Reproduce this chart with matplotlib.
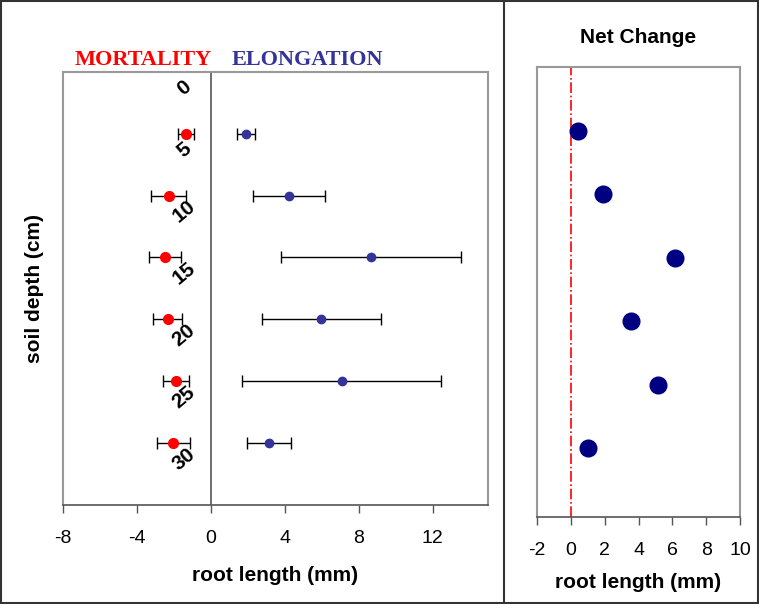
import matplotlib.pyplot as plt
from matplotlib.patches import Rectangle
from matplotlib.lines import Line2D

depth = [5, 10, 15, 20, 25, 30]
depth_labels = [0, 5, 10, 15, 20, 25, 30]
mortality = [-1.35, -2.29, -2.5, -2.34, -1.89, -2.04]
mortality_err = [0.45, 0.95, 0.86, 0.8, 0.69, 0.9]
elongation = [1.89, 4.23, 8.65, 5.98, 7.08, 3.15]
elongation_err = [0.5, 1.97, 4.87, 3.22, 5.37, 1.2]
net_change = [0.42, 1.9, 6.13, 3.57, 5.18, 1.0]

plt.rcParams['font.family'] = ['Liberation Sans', 'DejaVu Sans']
plt.rcParams['axes.unicode_minus'] = False

fig = plt.figure(figsize=(7.59, 6.04), dpi=100)

# Left panel: mortality and elongation
ax = fig.add_axes([0.083, 0.164, 0.560, 0.717])
ax.errorbar(mortality, depth, xerr=mortality_err, fmt='o', color='red',
            ecolor='black', elinewidth=1, capsize=4, capthick=1, markersize=7)
ax.errorbar(elongation, depth, xerr=elongation_err, fmt='o', color='#333399',
            ecolor='black', elinewidth=1, capsize=4, capthick=1, markersize=6)
ax.axvline(0, color='#555555', lw=1.2, zorder=0)
for d in depth_labels:
    ax.text(-1.45, d + 1.3, str(d), rotation=40, ha='center', va='center',
            fontsize=15, fontweight='bold')
ax.set_xlim(-8, 15)
ax.set_ylim(35, 0)
ax.set_xticks([-8, -4, 0, 4, 8, 12])
ax.set_yticks([])
ax.tick_params(axis='x', direction='out', length=6, width=1, colors='#555555',
               labelcolor='black', labelsize=14, pad=12)
for s in ['top', 'right', 'left']:
    ax.spines[s].set_color('#999999')
    ax.spines[s].set_linewidth(1.5)
ax.spines['bottom'].set_color('#555555')
ax.spines['bottom'].set_linewidth(1.2)
ax.set_xlabel('root length (mm)', fontsize=15, fontweight='bold', labelpad=14)
ax.set_ylabel('soil depth (cm)', fontsize=15, fontweight='bold', labelpad=14)

fig.text(0.098, 0.900, 'MORTALITY', color='red', fontsize=16, fontweight='bold',
         family='Liberation Serif', ha='left', va='center')
fig.text(0.305, 0.900, 'ELONGATION', color='#333399', fontsize=16, fontweight='bold',
         family='Liberation Serif', ha='left', va='center')

# Right panel: net change
ax2 = fig.add_axes([0.7075, 0.144, 0.2675, 0.745])
ax2.plot(net_change, depth, 'o', color='#000080', markersize=12)
ax2.axvline(0, color='red', lw=1.2, ls='-.', zorder=0)
ax2.set_xlim(-2, 10)
ax2.set_ylim(35.4, 0)
ax2.set_xticks([-2, 0, 2, 4, 6, 8, 10])
ax2.set_yticks([])
ax2.tick_params(axis='x', direction='out', length=6, width=1, colors='#555555',
                labelcolor='black', labelsize=14, pad=12)
for s in ['top', 'right', 'left']:
    ax2.spines[s].set_color('#999999')
    ax2.spines[s].set_linewidth(1.5)
ax2.spines['bottom'].set_color('#555555')
ax2.spines['bottom'].set_linewidth(1.2)
ax2.set_xlabel('root length (mm)', fontsize=15, fontweight='bold', labelpad=10)
ax2.set_title('Net Change', fontsize=15, fontweight='bold', pad=17)

# Frame and separator
fig.patches.append(Rectangle((0.001, 0.001), 0.998, 0.998, transform=fig.transFigure,
                             fill=False, edgecolor='#333333', lw=1.5))
fig.lines.append(Line2D([0.664, 0.664], [0, 1], transform=fig.transFigure,
                        color='#333333', lw=1.5))

fig.savefig('out.png', dpi=100)
